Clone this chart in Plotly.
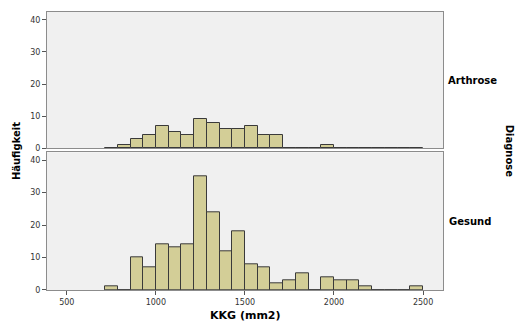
import plotly.graph_objects as go

# Histogram bins (KKG mm2)
bin_start = 715.0
bin_width = 71.4
n_bins = 25

arthrose_counts = [0, 1, 3, 4, 7, 5, 4, 9, 8, 6, 6, 7, 4, 4, 0, 0, 0, 1, 0, 0, 0, 0, 0, 0, 0]
gesund_counts = [1, 0, 10, 7, 14, 13, 14, 35, 24, 12, 18, 8, 7, 2, 3, 5, 0, 4, 3, 3, 1, 0, 0, 0, 1]

x_ticks = [500, 1000, 1500, 2000, 2500]
y_ticks = [0, 10, 20, 30, 40]
panel_labels = ["Arthrose", "Gesund"]

centers = [bin_start + bin_width * (i + 0.5) for i in range(n_bins)]

BAR = "#D3CE97"
EDGE = "#3a3a3a"
BG = "#F0F0F0"
LINE = "#8c8c8c"
FONT = "DejaVu Sans"

fig = go.Figure()
for counts, xa, ya in [(arthrose_counts, "x", "y"), (gesund_counts, "x2", "y2")]:
    fig.add_trace(go.Bar(
        x=centers, y=counts, width=bin_width,
        marker=dict(color=BAR, line=dict(color=EDGE, width=1)),
        xaxis=xa, yaxis=ya, showlegend=False, hoverinfo="skip",
    ))

xr = [389, 2612]
yr = [0, 42.4]
common_y = dict(range=yr, tickvals=y_ticks, ticks="outside", ticklen=4, tickcolor="#555",
                showline=True, linecolor=LINE, mirror=True, showgrid=False, zeroline=False,
                automargin=False,
                tickfont=dict(family=FONT, size=8, color="#333"))

fig.update_layout(
    width=515, height=322,
    margin=dict(l=47, r=72, t=12, b=32),
    paper_bgcolor="white", plot_bgcolor=BG,
    bargap=0,
    xaxis=dict(domain=[0, 1], range=xr, anchor="y", showticklabels=False, ticks="",
               showline=True, linecolor=LINE, mirror=True, showgrid=False, zeroline=False,
               automargin=False, tickvals=x_ticks),
    yaxis=dict(domain=[0.5097, 1], anchor="x", **common_y),
    xaxis2=dict(domain=[0, 1], range=xr, anchor="y2", tickvals=x_ticks, ticks="outside",
                ticklen=4, tickcolor="#555", showline=True, linecolor=LINE, mirror=True,
                showgrid=False, zeroline=False, automargin=False,
                tickfont=dict(family=FONT, size=8, color="#333")),
    yaxis2=dict(domain=[0, 0.4953], anchor="x2", **common_y),
    annotations=[
        dict(text="<b>" + panel_labels[0] + "</b>", xref="paper", yref="paper", x=1.008, y=0.755,
             xanchor="left", yanchor="middle", showarrow=False,
             font=dict(family=FONT, size=10, color="black")),
        dict(text="<b>" + panel_labels[1] + "</b>", xref="paper", yref="paper", x=1.01, y=0.245,
             xanchor="left", yanchor="middle", showarrow=False,
             font=dict(family=FONT, size=10, color="black")),
        dict(text="<b>Diagnose</b>", xref="paper", yref="paper", x=1.17, y=0.5,
             xanchor="center", yanchor="middle", textangle=90, showarrow=False,
             font=dict(family=FONT, size=10, color="black")),
        dict(text="<b>Häufigkeit</b>", xref="paper", yref="paper", x=-0.078, y=0.5,
             xanchor="center", yanchor="middle", textangle=-90, showarrow=False,
             font=dict(family=FONT, size=10, color="black")),
        dict(text="<b>KKG (mm2)</b>", xref="paper", yref="paper", x=0.5, y=-0.092,
             xanchor="center", yanchor="middle", showarrow=False,
             font=dict(family=FONT, size=11, color="black")),
    ],
)

fig.write_html("out.html")
